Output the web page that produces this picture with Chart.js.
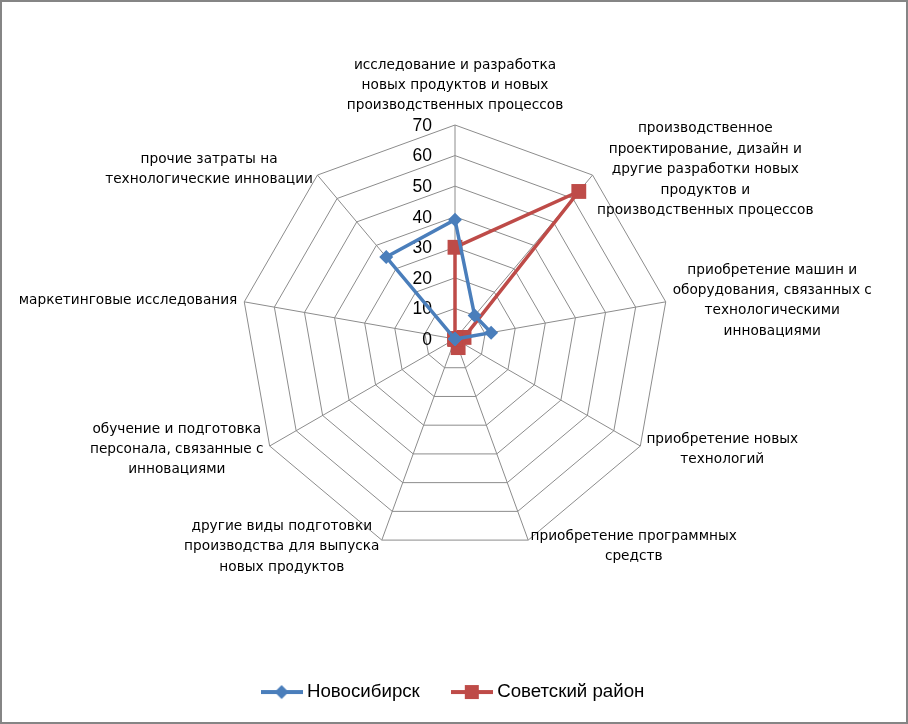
<!DOCTYPE html>
<html lang="ru">
<head>
    <meta charset="UTF-8">
    <title>Затраты на технологические инновации</title>
    <script src="https://cdn.jsdelivr.net/npm/chart.js"></script>
    <style>
        html, body { margin: 0; padding: 0; background: #fff; }
        canvas { display: block; }
    </style>
</head>
<body>
    <canvas id="radarChart" width="908" height="724"></canvas>

    <script>
        // категории (оси), по строкам как на исходной диаграмме
        const categories = [
            ['исследование и разработка', 'новых продуктов и новых', 'производственных процессов'],
            ['производственное', 'проектирование, дизайн и', 'другие разработки новых', 'продуктов и', 'производственных процессов'],
            ['приобретение машин и', 'оборудования, связанных с', 'технологическими', 'инновациями'],
            ['приобретение новых', 'технологий'],
            ['приобретение программных', 'средств'],
            ['другие виды подготовки', 'производства для выпуска', 'новых продуктов'],
            ['обучение и подготовка', 'персонала, связанные с', 'инновациями'],
            ['маркетинговые исследования'],
            ['прочие затраты на', 'технологические инновации']
        ];
        const novosibirsk = [39, 10, 12, 0, 0, 0, 0, 0, 35];
        const sovetsky = [30, 63, 3, 0, 3, 0, 0, 0, 0];
        const tickValues = [0, 10, 20, 30, 40, 50, 60, 70];

        const BLUE = '#4A7EBB';
        const RED = '#BE4B48';

        // картинка "линия + маркер" для легенды
        function legendIcon(color, shape) {
            const c = document.createElement('canvas');
            c.width = 42; c.height = 18;
            const g = c.getContext('2d');
            g.strokeStyle = color;
            g.lineWidth = 4;
            g.beginPath(); g.moveTo(0, 9); g.lineTo(42, 9); g.stroke();
            g.fillStyle = color;
            if (shape === 'diamond') {
                g.beginPath();
                g.moveTo(21, 2); g.lineTo(28, 9); g.lineTo(21, 16); g.lineTo(14, 9);
                g.closePath(); g.fill();
            } else {
                g.fillRect(14, 2, 14, 14);
            }
            return c;
        }

        // подписи шкалы слева от вертикальной оси
        const tickLabels = {
            id: 'tickLabels',
            beforeDatasetsDraw(chart) {
                const s = chart.scales.r;
                const ctx = chart.ctx;
                ctx.save();
                ctx.font = '17.5px "Liberation Sans", sans-serif';
                ctx.fillStyle = '#000';
                ctx.textAlign = 'right';
                ctx.textBaseline = 'middle';
                tickValues.forEach(v => {
                    const d = s.getDistanceFromCenterForValue(v);
                    ctx.fillText(String(v), s.xCenter - 23, s.yCenter - d + 1);
                });
                ctx.restore();
            }
        };

        // подписи осей, строки центрированы внутри блока
        const axisLabels = {
            id: 'axisLabels',
            afterDraw(chart) {
                const s = chart.scales.r;
                const ctx = chart.ctx;
                const lh = 20.4;
                ctx.save();
                ctx.font = '13.7px "DejaVu Sans", sans-serif';
                ctx.fillStyle = '#000';
                ctx.textBaseline = 'middle';
                ctx.textAlign = 'center';
                chart.data.labels.forEach((lines, i) => {
                    const p = s.getPointPosition(i, s.drawingArea + 7);
                    const w = Math.max(...lines.map(t => ctx.measureText(t).width));
                    const h = lines.length * lh;
                    const deg = i * 360 / chart.data.labels.length;
                    let cx, top;
                    if (i === 0) {
                        cx = p.x;
                        top = p.y - 2 - h;
                    } else if (deg < 180) {
                        cx = p.x + w / 2;
                        top = p.y - h / 2;
                    } else {
                        cx = p.x - w / 2;
                        top = p.y - h / 2;
                    }
                    lines.forEach((t, k) => ctx.fillText(t, cx, top + lh * k + lh / 2));
                });
                // рамка диаграммы
                ctx.strokeStyle = '#858585';
                ctx.lineWidth = 2;
                ctx.strokeRect(1, 1, chart.width - 2, chart.height - 2);
                ctx.restore();
            }
        };

        const ctx = document.getElementById('radarChart').getContext('2d');
        new Chart(ctx, {
            type: 'radar',
            data: {
                labels: categories,
                datasets: [{
                    label: 'Новосибирск',
                    data: novosibirsk,
                    borderColor: BLUE,
                    backgroundColor: BLUE,
                    borderWidth: 3.5,
                    fill: false,
                    pointStyle: 'rectRot',
                    pointRadius: 7,
                    pointBackgroundColor: BLUE,
                    pointBorderColor: BLUE,
                    pointBorderWidth: 0,
                    tension: 0
                }, {
                    label: 'Советский район',
                    data: sovetsky,
                    borderColor: RED,
                    backgroundColor: RED,
                    borderWidth: 3.5,
                    fill: false,
                    pointStyle: 'rect',
                    pointRadius: 10.5,
                    pointBackgroundColor: RED,
                    pointBorderColor: RED,
                    pointBorderWidth: 0,
                    tension: 0
                }]
            },
            options: {
                responsive: false,
                animation: false,
                devicePixelRatio: 1,
                layout: {
                    padding: { left: 2, right: 0, top: 125, bottom: 12.6 }
                },
                scales: {
                    r: {
                        min: 0,
                        max: 70,
                        ticks: { stepSize: 10, display: false },
                        grid: { color: '#8c8c8c', lineWidth: 1, circular: false },
                        angleLines: { color: '#8c8c8c', lineWidth: 1 },
                        pointLabels: { display: false }
                    }
                },
                plugins: {
                    tooltip: { enabled: false },
                    legend: {
                        position: 'bottom',
                        title: {
                            display: true,
                            text: ' ',
                            font: { size: 1, lineHeight: 1 },
                            padding: { top: 92.6, bottom: 0 }
                        },
                        labels: {
                            usePointStyle: true,
                            pointStyleWidth: 32,
                            padding: 36,
                            color: '#000',
                            font: { family: '"Liberation Sans", sans-serif', size: 18.7 },
                            generateLabels(chart) {
                                return chart.data.datasets.map((ds, i) => ({
                                    text: ds.label,
                                    datasetIndex: i,
                                    fontColor: '#000',
                                    strokeStyle: ds.borderColor,
                                    fillStyle: ds.borderColor,
                                    lineWidth: 0,
                                    pointStyle: legendIcon(ds.borderColor, i === 0 ? 'diamond' : 'square')
                                }));
                            }
                        }
                    }
                }
            },
            plugins: [tickLabels, axisLabels]
        });
    </script>
</body>
</html>
